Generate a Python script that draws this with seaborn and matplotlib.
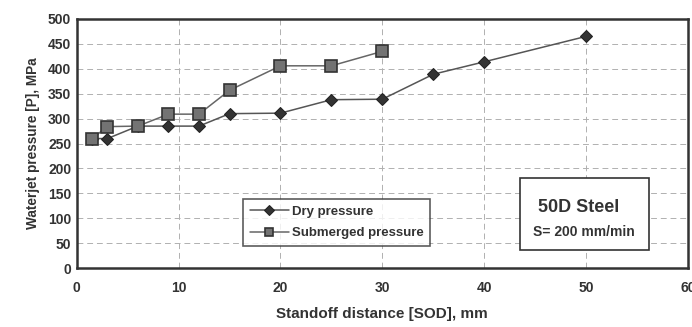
import matplotlib
matplotlib.use("Agg")
import matplotlib.pyplot as plt
import seaborn as sns
import pandas as pd
from matplotlib.patches import Rectangle

dry_x = [1.5, 3, 6, 9, 12, 15, 20, 25, 30, 35, 40, 50]
dry_p = [260, 260, 285, 285, 285, 310, 311, 338, 339, 389, 414, 465]
sub_x = [1.5, 3, 6, 9, 12, 15, 20, 25, 30]
sub_p = [260, 284, 285, 309, 309, 357, 406, 406, 435]

x_ticks = [0, 10, 20, 30, 40, 50, 60]
y_ticks = [0, 50, 100, 150, 200, 250, 300, 350, 400, 450, 500]

sns.set_theme(style="white")
plt.rcParams['font.family'] = ['Liberation Sans', 'DejaVu Sans']

df = pd.concat([
    pd.DataFrame({"x": dry_x, "p": dry_p, "s": "Dry pressure"}),
    pd.DataFrame({"x": sub_x, "p": sub_p, "s": "Submerged pressure"}),
])

fig = plt.figure(figsize=(6.92, 3.27), dpi=100)
ax = fig.add_axes([0.111, 0.180, 0.883, 0.762])

ax.grid(True, color="#b0b0b0", linestyle=(0, (6, 4)), linewidth=0.7)
ax.set_axisbelow(True)

sns.lineplot(data=df[df.s == "Dry pressure"], x="x", y="p", ax=ax,
             color="#555555", linewidth=1.1, marker="D", markersize=6,
             markerfacecolor="#333333", markeredgecolor="#222222",
             label="Dry pressure", zorder=3)
sns.lineplot(data=df[df.s == "Submerged pressure"], x="x", y="p", ax=ax,
             color="#666666", linewidth=1.1, marker="s", markersize=8,
             markerfacecolor="#737373", markeredgecolor="#333333",
             markeredgewidth=1.2, label="Submerged pressure", zorder=4)

ax.set_xlim(0, 60)
ax.set_ylim(0, 500)
ax.set_xticks(x_ticks)
ax.set_yticks(y_ticks)
ax.tick_params(axis="both", labelsize=10, colors="#222222", length=0)
for lab in ax.get_xticklabels() + ax.get_yticklabels():
    lab.set_fontweight("bold")
    lab.set_color("#333333")
ax.tick_params(axis="x", pad=9)
ax.tick_params(axis="y", pad=4)

for sp in ax.spines.values():
    sp.set_visible(True)
    sp.set_color("#333333")
    sp.set_linewidth(1.8)

ax.set_xlabel("Standoff distance [SOD], mm", fontsize=11, fontweight="bold",
              color="#333333", labelpad=9)
ax.set_ylabel("Waterjet pressure [P], MPa", fontsize=9.8, fontweight="bold",
              color="#333333", labelpad=6)

leg = ax.legend(loc="upper left", bbox_to_anchor=(0.272, 0.277), frameon=True,
                fancybox=False, prop={"size": 9.5, "weight": "bold"},
                handlelength=3.0, borderpad=0.5, markerscale=0.8,
                labelspacing=0.7, handletextpad=0.2, borderaxespad=0)
leg.get_frame().set_edgecolor("#333333")
leg.get_frame().set_linewidth(1.2)
for t in leg.get_texts():
    t.set_color("#333333")

ax.text(0.822, 0.245, "50D Steel", transform=ax.transAxes, ha="center",
        va="center", fontsize=13, fontweight="bold", color="#333333", zorder=6)
ax.text(0.83, 0.145, "S= 200 mm/min", transform=ax.transAxes, ha="center",
        va="center", fontsize=10, fontweight="bold", color="#333333", zorder=6)
ax.add_patch(Rectangle((0.725, 0.072), 0.211, 0.29, transform=ax.transAxes,
                       facecolor="white", edgecolor="#333333", linewidth=1.2,
                       zorder=5))

fig.savefig("out.png", dpi=100, facecolor="white")
